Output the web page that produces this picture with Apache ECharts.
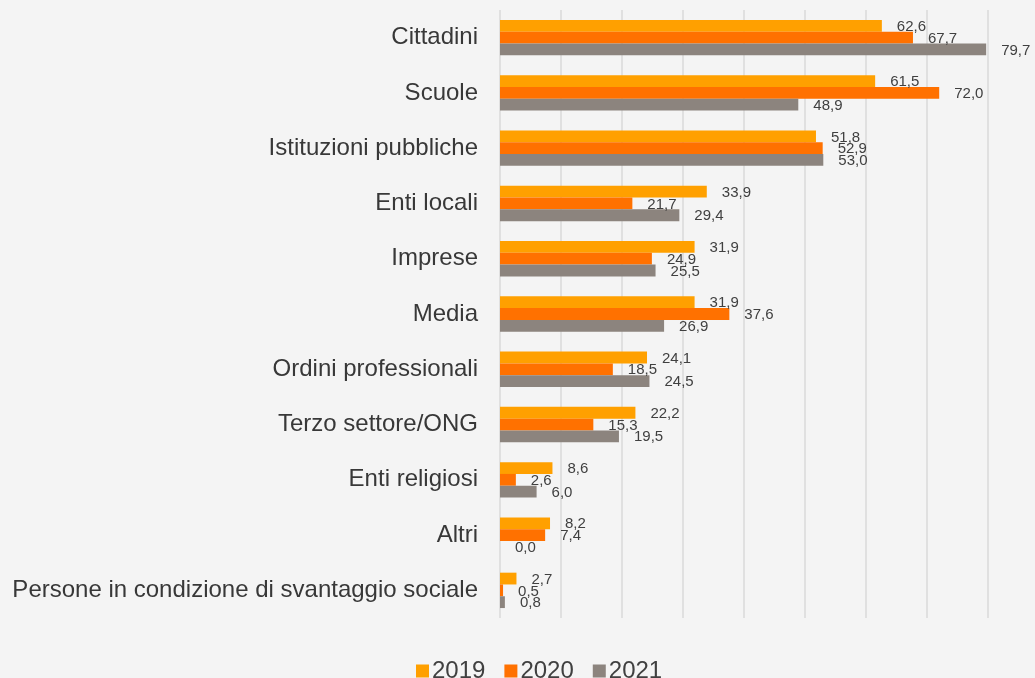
<!DOCTYPE html>
<html>
<head>
<meta charset="utf-8">
<script src="https://cdn.jsdelivr.net/npm/echarts@6/dist/echarts.min.js"></script>
<style>
  html, body { margin: 0; padding: 0; background: #f4f4f4; }
  #chart { width: 1035px; height: 678px; }
</style>
</head>
<body>
<div id="chart"></div>
<script>
// categorie (dall'alto verso il basso)
const categories = [
  'Cittadini', 'Scuole', 'Istituzioni pubbliche', 'Enti locali', 'Imprese', 'Media',
  'Ordini professionali', 'Terzo settore/ONG', 'Enti religiosi', 'Altri',
  'Persone in condizione di svantaggio sociale'
]
const years = ['2019', '2020', '2021']
const values2019 = [62.6, 61.5, 51.8, 33.9, 31.9, 31.9, 24.1, 22.2, 8.6, 8.2, 2.7]
const values2020 = [67.7, 72.0, 52.9, 21.7, 24.9, 37.6, 18.5, 15.3, 2.6, 7.4, 0.5]
const values2021 = [79.7, 48.9, 53.0, 29.4, 25.5, 26.9, 24.5, 19.5, 6.0, 0.0, 0.8]

let myChart = echarts.init(document.getElementById('chart'))

// etichetta con virgola decimale
let labelStyle = {
  show: true,
  position: 'right',
  distance: 15,
  offset: [0, 1],
  color: '#404040',
  fontSize: 15,
  fontFamily: 'Liberation Sans, Arial, sans-serif',
  formatter: p => p.value.toFixed(1).replace('.', ',')
}

let makeSeries = (name, data) => ({
  name: name,
  type: 'bar',
  data: data,
  barGap: '0%',
  barCategoryGap: '36%',
  label: labelStyle
})

let option = {
  backgroundColor: '#f4f4f4',
  color: ['#FFA000', '#FF7100', '#8C847E'],
  textStyle: { fontFamily: 'Liberation Sans, Arial, sans-serif' },
  grid: { left: 500, right: 47, top: 10, bottom: 60 },
  legend: {
    data: years,
    left: 411,
    top: 654,
    itemWidth: 13,
    itemHeight: 13,
    itemGap: 19,
    icon: 'rect',
    textStyle: { color: '#404040', fontSize: 24, padding: [0, 0, 0, -2] }
  },
  xAxis: {
    type: 'value',
    min: 0,
    max: 80,
    interval: 10,
    axisLabel: { show: false },
    axisLine: { show: false },
    axisTick: { show: false },
    splitLine: { lineStyle: { color: '#e0e0e0', width: 2 } }
  },
  yAxis: {
    type: 'category',
    data: categories,
    inverse: true,
    axisLine: { show: false },
    axisTick: { show: false },
    axisLabel: { color: '#383838', fontSize: 24, margin: 22 }
  },
  series: [
    makeSeries('2019', values2019),
    makeSeries('2020', values2020),
    makeSeries('2021', values2021)
  ]
}
myChart.setOption(option)
</script>
</body>
</html>
